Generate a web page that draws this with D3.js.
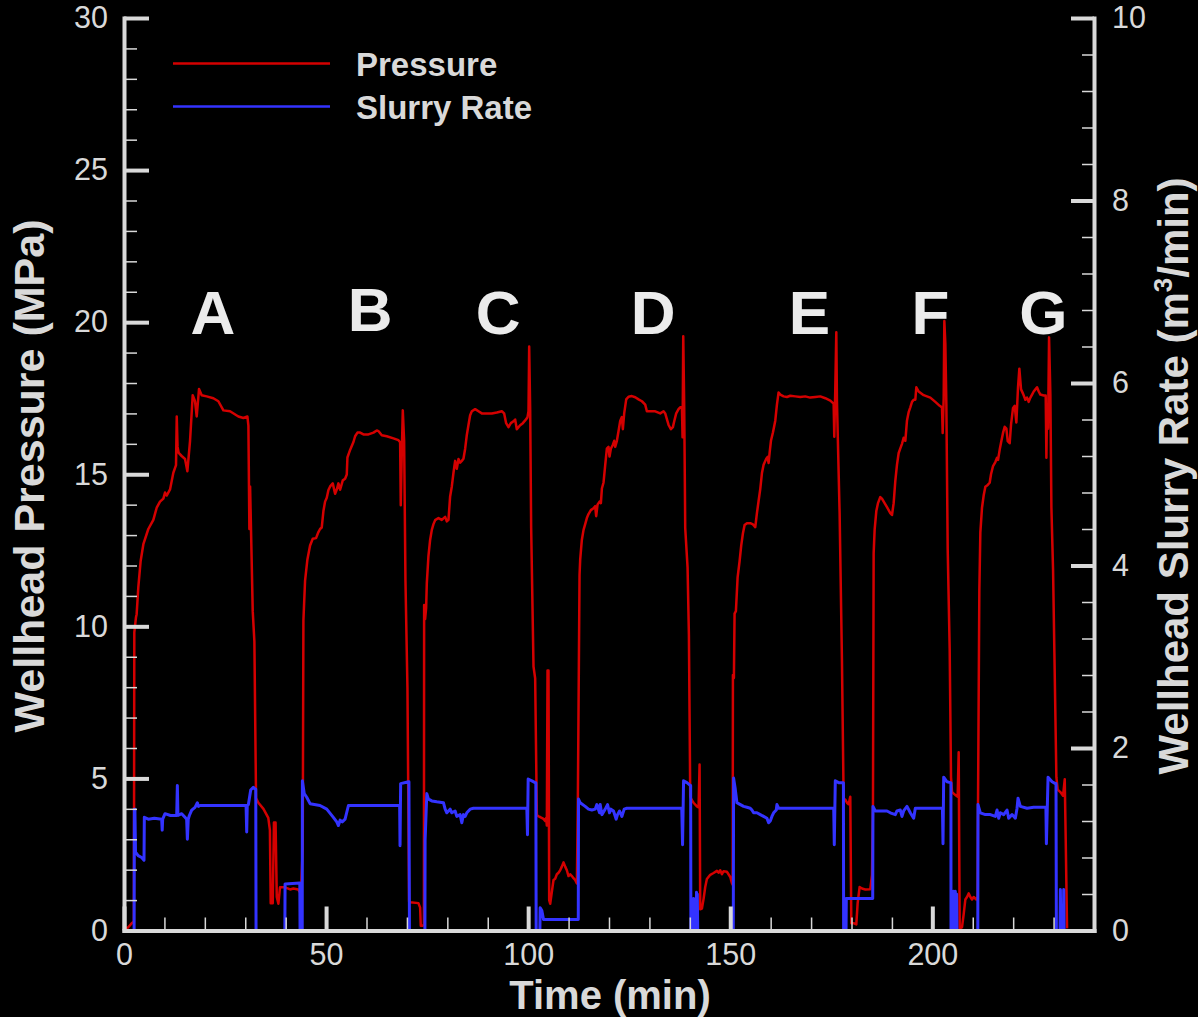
<!DOCTYPE html>
<html>
<head>
  <title>Wellhead pressure and slurry rate</title>
  <script src="https://cdn.jsdelivr.net/npm/d3@7"></script>
  <style>
    html, body { margin: 0; padding: 0; background: #000; }
    svg { display: block; }
  </style>
</head>
<body>
  <svg width="1198" height="1017"></svg>
<script>

// time (min), wellhead pressure (MPa), one array per stage
const pressureA = [[0,0.05],[1,0.1],[2,0.25],[2.45,0.3],[2.55,9.8],[2.97,10.3],[3.13,10.4],[3.55,11.3],[4.12,12.15],[4.79,12.7],[6.02,13.2],[7.26,13.5],[8.09,13.9],[8.91,14.1],[9.74,14.2],[10.15,14.4],[10.56,14.3],[11.39,14.5],[12.21,15.05],[12.87,15.3],[13.05,16.9],[13.25,15.9],[13.53,15.7],[14.27,15.6],[15.1,15.5],[15.68,15.1],[16.34,16.1],[17,17.6],[17.57,17.4],[17.99,16.9],[18.56,17.8],[19.22,17.6],[20.46,17.56],[22.11,17.5],[23.35,17.4],[24.59,17.1],[26.24,17.07],[28.3,16.9],[29.54,16.85],[30.53,16.9],[30.78,16.6],[31.02,13.2],[31.2,14.6],[31.85,10.5],[32.26,9.5],[32.67,4.35],[33.25,4.2],[34.5,4.0],[35.7,3.7],[36.1,3.3],[36.3,0.9],[36.8,0.9],[37.1,3.55],[37.5,3.55],[37.8,1.1],[38.2,0.88],[38.6,1.42],[39.85,1.42],[41.1,1.35],[41.9,1.38],[43.1,1.35],[43.6,1.25],[43.8,1.3],[44.22,2.7]];
const pressureB = [[44.39,10.2],[44.8,11.5],[45.38,12.2],[46.04,12.66],[46.7,12.88],[47.52,12.9],[48.1,13.1],[48.51,13.2],[48.93,13.25],[49.34,13.79],[49.75,14.1],[50.17,14.23],[50.58,14.48],[51,14.6],[51.65,14.7],[52.23,14.36],[52.64,14.5],[53.05,14.7],[53.47,14.49],[54.13,14.8],[54.7,14.85],[55.12,14.99],[55.28,15.55],[55.94,15.8],[56.77,16.06],[57.18,16.25],[57.76,16.37],[58.42,16.37],[59.24,16.31],[60.48,16.31],[61.72,16.37],[62.54,16.44],[62.95,16.42],[63.78,16.28],[65.02,16.25],[66.67,16.18],[67.9,16.12],[68.32,16.05],[68.48,13.98],[68.73,15.68],[68.98,17.1],[69.31,16.1],[69.64,11.5],[70.13,8.0],[70.54,0.95],[70.79,0.93],[72.85,0.9],[73.27,0.75],[73.43,0.16],[73.93,0.16],[74.2,0.2]];
const pressureC = [[74.26,10.7],[74.5,10.24],[74.75,10.6],[74.92,11.41],[75.33,12.32],[75.74,12.84],[76.16,13.17],[76.57,13.36],[76.98,13.49],[77.81,13.56],[78.63,13.5],[79.46,13.6],[79.87,13.45],[80.28,13.5],[80.69,14.27],[81.11,14.6],[81.52,15.05],[81.93,15.44],[82.34,15.18],[82.76,15.5],[83.17,15.38],[83.58,15.44],[83.99,15.51],[84.41,15.84],[84.82,16.29],[85.23,16.62],[85.64,16.94],[86.06,17.07],[86.88,17.14],[87.71,17.07],[88.53,17.0],[89.77,17.0],[91,17.0],[92.24,17.03],[93.48,17.07],[94.06,17.0],[94.55,16.68],[95.13,16.55],[95.71,16.68],[96.37,16.74],[96.78,16.8],[97.19,16.48],[97.61,16.55],[98.02,16.61],[98.68,16.68],[99.26,16.77],[99.83,16.87],[100.08,17.07],[100.25,19.2],[100.5,17.1],[100.74,13.23],[101.32,8.68],[101.73,8.29],[102.15,3.8],[102.56,3.75],[102.97,3.73],[103.8,3.67],[104.21,3.6],[104.46,3.7],[104.62,3.45],[104.79,8.55],[105.03,8.55],[105.2,1.0],[105.45,0.88],[105.86,1.27],[106.27,1.66],[106.68,1.7],[107.1,1.85],[107.51,1.9],[107.92,1.98],[108.33,2.1],[108.75,2.24],[109.16,2.1],[109.57,1.98],[109.98,1.79],[110.4,1.85],[110.81,1.79],[111.22,1.72],[111.63,1.66],[112.05,1.55],[112.29,4.26],[112.71,11.68]];
const pressureD = [[112.87,12.19],[113.28,12.84],[113.7,13.17],[114.11,13.36],[114.52,13.56],[114.93,13.69],[115.51,13.82],[116.17,13.88],[116.58,13.95],[116.83,13.62],[117.16,14.0],[117.66,14.1],[117.99,14.05],[118.24,14.53],[118.65,14.73],[119.06,15.3],[119.47,15.84],[119.88,15.9],[120.13,15.58],[120.46,15.84],[120.96,15.97],[121.29,16.1],[121.53,15.9],[121.95,16.1],[122.36,16.42],[122.77,16.75],[123.18,16.88],[123.43,16.48],[123.76,17.0],[124.26,17.46],[124.83,17.55],[125.66,17.57],[126.49,17.53],[127.31,17.46],[128.14,17.4],[128.96,17.29],[129.37,17.07],[130.2,17.07],[131.44,17.07],[132.67,17.0],[133.5,17.07],[133.91,17.0],[134.32,16.81],[134.74,16.62],[135.31,16.48],[135.81,16.55],[136.14,16.74],[136.63,17.0],[137.21,17.14],[137.62,17.2],[138.04,17.2],[138.2,16.22],[138.37,19.54],[138.61,17.2],[138.86,13.23],[139.44,11.93],[139.77,9.72],[140.1,4.4],[140.51,4.28],[140.92,4.2],[141.75,4.08],[142.16,4.05],[142.41,5.46],[142.57,0.7],[142.99,0.72],[143.4,1.04],[143.81,1.43],[144.22,1.69],[145.05,1.83],[145.87,1.89],[146.7,1.96],[147.11,1.9],[147.52,1.98],[147.94,1.85],[148.35,1.95],[149.17,1.93],[150,1.76],[150.41,1.56],[150.6,1.5],[150.66,8.4],[150.9,8.3]];
const pressureE = [[151.07,10.42],[151.4,10.5],[151.82,11.61],[152.31,12.14],[152.72,12.66],[153.14,13.06],[153.55,13.33],[154.13,13.39],[154.95,13.39],[155.61,13.35],[156.19,13.26],[156.6,13.72],[157.01,14.12],[157.43,14.52],[157.84,15.04],[158.25,15.31],[158.91,15.51],[159.24,15.57],[159.49,15.37],[159.74,15.7],[160.07,16.1],[160.56,16.37],[161.14,16.76],[161.55,17.29],[161.96,17.69],[162.38,17.62],[163.2,17.56],[164.03,17.54],[164.85,17.58],[166.09,17.56],[167.33,17.54],[168.56,17.56],[169.8,17.52],[171.04,17.54],[172.28,17.56],[173.52,17.5],[174.75,17.42],[175.58,17.32],[175.74,16.23],[175.99,17.82],[176.24,19.67],[176.4,17.4],[177.06,13.72],[177.64,8.83],[178.05,4.34],[178.47,4.3],[178.88,4.2],[179.29,4.15],[179.7,4.4],[179.95,0.24],[180.53,0.24],[181.19,0.2],[181.52,0.9],[182.01,1.43],[182.59,1.38],[183.42,1.35],[184.65,1.36],[185.07,1.83],[185.31,4.0]];
const pressureF = [[185.48,12.4],[185.73,13.19],[186.14,13.79],[186.55,14.05],[187.13,14.25],[187.54,14.2],[188.12,14.07],[188.78,13.92],[189.6,13.72],[190.02,13.66],[190.43,14.05],[190.84,14.78],[191.25,15.31],[191.67,15.7],[192.08,15.85],[192.49,16.0],[192.9,16.2],[193.32,16.1],[193.73,16.77],[194.14,17.04],[194.55,17.2],[194.97,17.38],[195.38,17.45],[195.79,17.45],[196.04,17.86],[196.62,17.72],[197.85,17.6],[199.5,17.52],[200.74,17.38],[201.82,17.25],[202.39,17.2],[202.56,16.36],[202.81,17.5],[202.97,20.04],[203.22,19.3],[203.47,17.3],[203.8,12.54],[204.29,9.27],[204.62,5.04],[204.87,4.56],[205.28,4.5],[205.94,4.43],[206.27,4.4],[206.52,5.86],[206.77,0.07],[207.34,0.1],[207.76,0.54],[208.17,1.02],[208.58,1.1],[208.99,1.22],[209.41,1.1],[209.82,1.02],[210.23,1.1],[210.89,1.02],[211.22,1.1],[211.3,4.09]];
const pressureG = [[211.63,11.18],[211.88,13.09],[212.29,13.9],[212.71,14.31],[213.12,14.59],[213.7,14.65],[214.19,14.72],[214.52,15.0],[215.02,15.27],[215.59,15.4],[216.01,15.54],[216.25,15.47],[216.67,15.81],[217.08,16.09],[217.49,16.36],[217.9,16.56],[218.32,16.5],[218.65,16.09],[219.14,16.02],[219.47,16.63],[219.97,17.18],[220.38,17.25],[220.79,16.7],[221.2,17.86],[221.53,18.47],[221.95,17.79],[222.44,17.65],[223.02,17.45],[223.43,17.52],[223.84,17.38],[224.26,17.52],[224.67,17.62],[225.08,17.72],[225.5,17.79],[225.91,17.86],[226.32,17.72],[226.73,17.62],[227.56,17.59],[228.05,17.59],[228.22,15.54],[228.38,17.3],[228.63,16.5],[228.88,19.5],[229.21,17.6],[229.46,13.9],[229.87,11.86],[230.2,9.13],[230.69,5.04],[231.02,4.63],[231.68,4.55],[232.34,4.43],[232.76,4.97],[233,3.0],[233.33,0.07]];

// time (min), wellhead slurry rate (m3/min)
const rateA = [[0,0],[2.5,0],[2.56,1.33],[2.7,1.33],[2.85,0.86],[3.5,0.82],[4.37,0.8],[4.95,0.77],[5.03,1.24],[6,1.22],[7.5,1.23],[9.32,1.22],[9.45,1.1],[9.57,1.22],[10.15,1.28],[11.5,1.26],[13.04,1.26],[13.2,1.59],[13.35,1.26],[14.27,1.28],[15.1,1.24],[15.5,1.22],[15.68,1.0],[15.9,1.22],[16.17,1.26],[16.75,1.32],[17.57,1.35],[18.15,1.4],[18.4,1.36],[18.81,1.37],[30.2,1.37],[30.36,1.08],[30.5,1.37],[30.78,1.38],[31.35,1.54],[32,1.57],[32.43,1.55],[32.6,1.55],[32.67,0],[39.8,0],[39.85,0.51],[43.5,0.52],[43.56,0],[44.1,0]];
const rateB = [[44.14,1.64],[44.6,1.5],[45.21,1.46],[46.04,1.39],[48.5,1.37],[50.17,1.33],[51.8,1.24],[52.64,1.19],[53.05,1.15],[53.47,1.21],[54,1.19],[54.7,1.22],[55.53,1.37],[68.2,1.37],[68.3,0.93],[68.45,1.61],[70.38,1.63],[70.5,1.63],[70.63,0],[74.45,0]];
const rateC = [[74.5,0.99],[74.92,1.5],[75.33,1.44],[76.16,1.42],[77.39,1.41],[79.04,1.4],[79.46,1.33],[79.87,1.29],[80.69,1.33],[81.11,1.29],[81.93,1.31],[82.34,1.25],[83.17,1.27],[83.58,1.18],[83.99,1.27],[84.41,1.25],[84.82,1.29],[85.23,1.31],[85.64,1.33],[86.47,1.34],[99.67,1.34],[99.83,1.05],[100,1.66],[100.91,1.64],[101.73,1.62],[101.9,1.62],[101.98,0],[102.9,0],[102.97,0.25],[103.38,0.22],[103.8,0.12],[112.4,0.12]];
const rateD = [[112.46,1.44],[112.87,1.4],[114.11,1.36],[114.93,1.33],[115.76,1.32],[116.58,1.33],[116.99,1.38],[117.66,1.29],[117.82,1.38],[118.24,1.27],[119.06,1.33],[119.64,1.38],[120.13,1.29],[120.46,1.33],[121.12,1.31],[121.78,1.22],[122.11,1.27],[122.61,1.31],[123.18,1.25],[123.76,1.33],[124.42,1.34],[138,1.34],[138.2,0.94],[138.45,1.64],[139.27,1.62],[140.1,1.59],[140.2,1.59],[140.26,0],[140.9,0],[140.95,0.35],[141,0],[141.6,0],[141.65,0.42],[141.75,0],[141.85,0.4],[141.95,0],[150.75,0]];
const rateE = [[150.83,1.67],[151.24,1.55],[151.65,1.4],[152.06,1.39],[153.3,1.36],[154.13,1.35],[154.95,1.34],[155.36,1.32],[155.78,1.29],[156.6,1.29],[157.43,1.27],[158.25,1.25],[159.08,1.23],[159.49,1.18],[159.9,1.2],[160.31,1.25],[160.73,1.29],[161.39,1.32],[161.55,1.38],[161.96,1.34],[175.6,1.34],[175.74,0.94],[175.99,1.64],[176.82,1.62],[178,1.62],[178.05,0],[178.65,0],[178.71,0.35],[185.25,0.35]];
const rateF = [[185.31,1.36],[185.89,1.31],[187.13,1.31],[188.78,1.31],[189.6,1.29],[190.84,1.27],[191.25,1.31],[192.08,1.32],[192.49,1.25],[192.9,1.31],[193.73,1.36],[194.55,1.29],[195.38,1.23],[195.79,1.34],[196.2,1.34],[202.5,1.34],[202.64,0.95],[202.81,1.68],[203.63,1.63],[204.46,1.62],[204.6,1.62],[204.62,0],[205.2,0],[205.28,0.43],[205.4,0],[205.6,0],[205.69,0.43],[205.8,0],[206,0.4],[206.1,0],[211.25,0]];
const rateG = [[211.3,1.38],[211.88,1.29],[213.12,1.27],[214.36,1.27],[215.59,1.25],[216.01,1.32],[216.42,1.23],[216.83,1.29],[217.66,1.27],[218.48,1.32],[218.89,1.23],[219.72,1.27],[220.54,1.23],[220.96,1.34],[221.2,1.45],[221.78,1.36],[223.43,1.34],[225.08,1.35],[228.1,1.35],[228.22,0.95],[228.63,1.68],[229.62,1.63],[230.45,1.61],[230.6,1.61],[230.69,0],[231.6,0],[231.68,0.45],[231.8,0],[232.4,0],[232.51,0.45],[232.6,0],[233.5,0]];

// stage labels: letter, time, pressure level of baseline
const stageNames = ['A', 'B', 'C', 'D', 'E', 'F', 'G'];
const stageTimes = [22.0, 60.9, 92.6, 130.9, 169.6, 199.5, 227.5];
const stageLevels = [19.6, 19.7, 19.6, 19.6, 19.6, 19.6, 19.6];

const timeTicks = [0, 50, 100, 150, 200];
const pressureTicks = [0, 5, 10, 15, 20, 25, 30];
const rateTicks = [0, 2, 4, 6, 8, 10];

const pressure = [].concat(pressureA, pressureB, pressureC, pressureD, pressureE, pressureF, pressureG);
const rate = [].concat(rateA, rateB, rateC, rateD, rateE, rateF, rateG);

const GREY = '#d9d9d9';
const FONT = '"Liberation Sans", Arial, Helvetica, sans-serif';

let svg = d3.select('svg');
svg.append('rect').attr('width', 1198).attr('height', 1017).attr('fill', '#000');

let x = d3.scaleLinear().domain([0, 240]).range([124, 1094]);
let yP = d3.scaleLinear().domain([0, 30]).range([930.5, 18]);
let yR = d3.scaleLinear().domain([0, 10]).range([930.5, 18]);

// data lines
let lineP = d3.line().x(d => x(d[0])).y(d => yP(d[1]));
let lineR = d3.line().x(d => x(d[0])).y(d => yR(d[1]));

svg.append('path').datum(pressure)
  .attr('d', lineP)
  .attr('fill', 'none')
  .attr('stroke', '#d40000')
  .attr('stroke-width', 2.5)
  .attr('stroke-linejoin', 'round');

svg.append('path').datum(rate)
  .attr('d', lineR)
  .attr('fill', 'none')
  .attr('stroke', '#3333ff')
  .attr('stroke-width', 3)
  .attr('stroke-linejoin', 'round');

// minor ticks
let minorP = d3.range(1, 30).filter(v => v % 5 !== 0);
let minorR = d3.range(1, 25).map(v => v * 0.4).filter(v => Math.abs(v / 2 - Math.round(v / 2)) > 0.01);
let minorT = d3.range(10, 240, 10).filter(v => v % 50 !== 0);

let styleAxis = (g, w) => {
  g.selectAll('path').attr('stroke', GREY).attr('stroke-width', 4);
  g.selectAll('line').attr('stroke', GREY).attr('stroke-width', w);
  g.selectAll('text').attr('fill', GREY).attr('font-family', FONT).attr('font-size', 30.5);
};

svg.append('g').attr('transform', 'translate(124,0)')
  .call(d3.axisLeft(yP).tickValues(minorP).tickSizeInner(-13).tickSizeOuter(0).tickFormat(''))
  .call(g => { styleAxis(g, 1.5); g.select('path').remove(); });
svg.append('g').attr('transform', 'translate(1094,0)')
  .call(d3.axisRight(yR).tickValues(minorR).tickSizeInner(-12).tickSizeOuter(0).tickFormat(''))
  .call(g => { styleAxis(g, 1.5); g.select('path').remove(); });
svg.append('g').attr('transform', 'translate(0,930.5)')
  .call(d3.axisBottom(x).tickValues(minorT).tickSizeInner(-13).tickSizeOuter(0).tickFormat(''))
  .call(g => { styleAxis(g, 1.5); g.select('path').remove(); });

// major ticks and axis lines
svg.append('g').attr('transform', 'translate(124,0)')
  .call(d3.axisLeft(yP).tickValues(pressureTicks).tickSizeInner(-25).tickSizeOuter(0).tickPadding(16).tickFormat(d3.format('d')))
  .call(g => styleAxis(g, 4));
svg.append('g').attr('transform', 'translate(1094,0)')
  .call(d3.axisRight(yR).tickValues(rateTicks).tickSizeInner(-23).tickSizeOuter(0).tickPadding(18).tickFormat(d3.format('d')))
  .call(g => styleAxis(g, 4));
svg.append('g').attr('transform', 'translate(0,930.5)')
  .call(d3.axisBottom(x).tickValues(timeTicks).tickSizeInner(-24).tickSizeOuter(0).tickPadding(13).tickFormat(d3.format('d')))
  .call(g => styleAxis(g, 4));

svg.selectAll('.domain').attr('stroke-linecap', 'square');

// axis titles
svg.append('text')
  .attr('x', 610).attr('y', 1009)
  .attr('text-anchor', 'middle')
  .attr('font-family', FONT).attr('font-weight', 'bold').attr('font-size', 40)
  .attr('fill', GREY)
  .text('Time (min)');

svg.append('text')
  .attr('transform', 'translate(44,476) rotate(-90)')
  .attr('text-anchor', 'middle')
  .attr('font-family', FONT).attr('font-weight', 'bold').attr('font-size', 43)
  .attr('fill', GREY)
  .text('Wellhead Pressure (MPa)');

let rt = svg.append('text')
  .attr('transform', 'translate(1188,476) rotate(-90)')
  .attr('text-anchor', 'middle')
  .attr('font-family', FONT).attr('font-weight', 'bold').attr('font-size', 42)
  .attr('fill', GREY);
rt.append('tspan').text('Wellhead Slurry Rate (m');
rt.append('tspan').attr('font-size', 26).attr('dy', -16).text('3');
rt.append('tspan').attr('dy', 16).text('/min)');

// stage letters
svg.append('g').selectAll('text')
  .data(stageNames)
  .join('text')
  .attr('x', (d, i) => x(stageTimes[i]))
  .attr('y', (d, i) => yP(stageLevels[i]))
  .attr('text-anchor', 'middle')
  .attr('font-family', FONT).attr('font-weight', 'bold').attr('font-size', 62)
  .attr('fill', '#ebebeb')
  .text(d => d);

// legend
let legend = svg.append('g');
[['Pressure', '#d40000', 63.5], ['Slurry Rate', '#3333ff', 106.5]].forEach(d => {
  legend.append('line')
    .attr('x1', 173).attr('x2', 330).attr('y1', d[2]).attr('y2', d[2])
    .attr('stroke', d[1]).attr('stroke-width', 2.5);
  legend.append('text')
    .attr('x', 356).attr('y', d[2] + 12)
    .attr('font-family', FONT).attr('font-weight', 'bold').attr('font-size', 33)
    .attr('fill', GREY)
    .text(d[0]);
});

</script>
</body>
</html>
